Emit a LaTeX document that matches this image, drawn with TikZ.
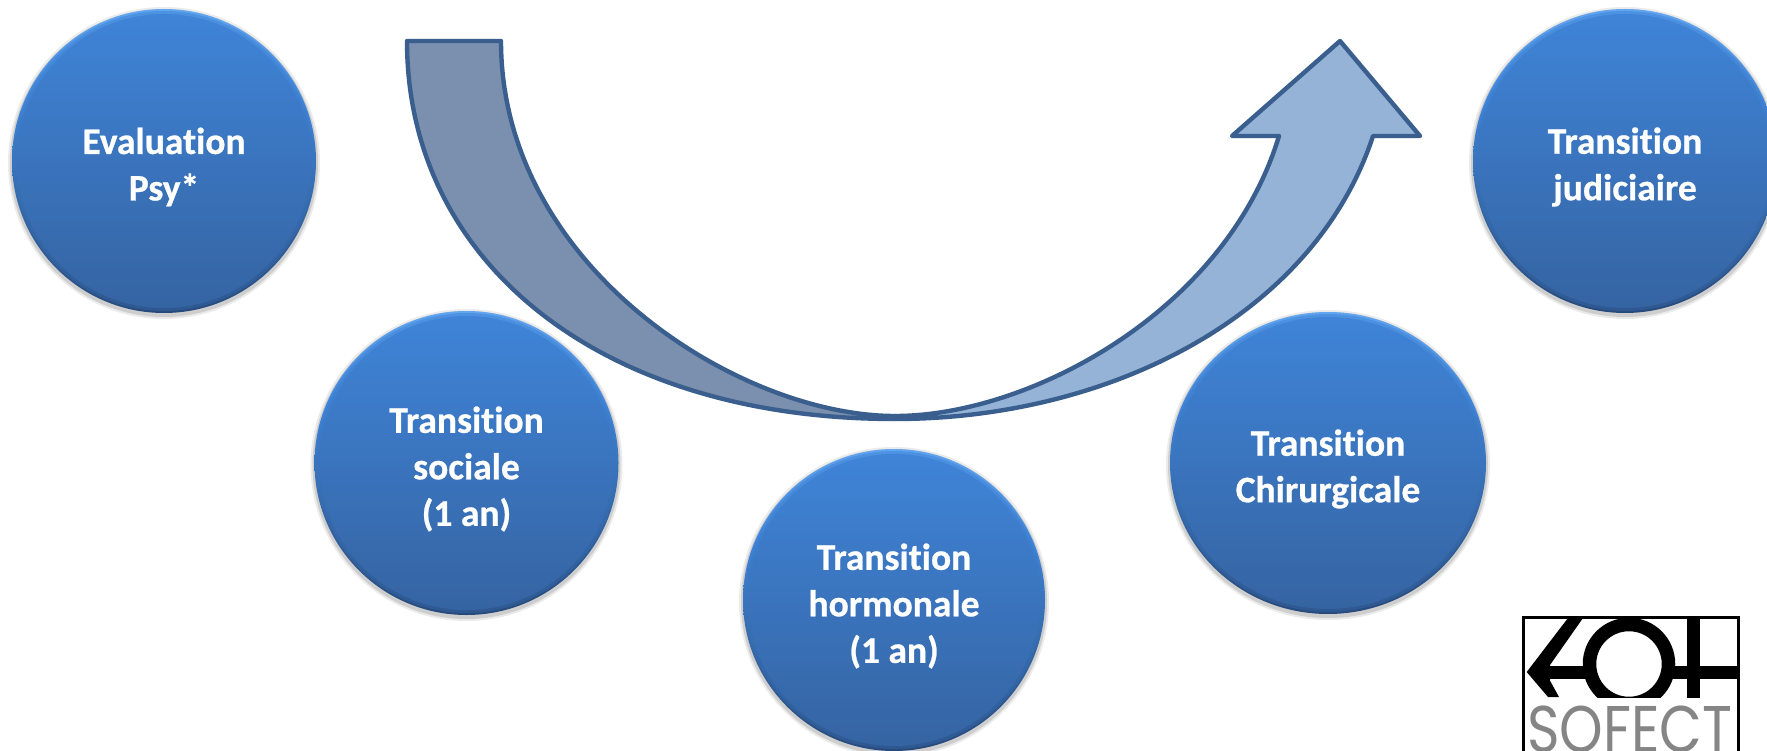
\documentclass[tikz,border=0pt]{standalone}
\usepackage{fontspec}
\setmainfont[Ligatures=NoCommon,BoldFeatures={FakeBold=0.7}]{Carlito}
\newfontfamily\logofont{Poppins}
\definecolor{stroke}{HTML}{3A5F8F}
\definecolor{leftfill}{HTML}{7A90AE}
\definecolor{rightfill}{HTML}{95B3D7}
\definecolor{logogray}{HTML}{858585}
\definecolor{rimtop}{HTML}{62A6F0}
\definecolor{rimmidA}{HTML}{3F85DA}
\definecolor{rimmidB}{HTML}{3568A8}
\definecolor{rimbot}{HTML}{274A7C}
\definecolor{bodytop}{HTML}{3F84D8}
\definecolor{bodybot}{HTML}{3564A2}
\tikzset{
  arrowpart/.style={draw=stroke,line width=4.4pt,line join=round},
  bubblelabel/.style={text=white,align=center,font=\fontsize{37.5}{46.5}\bfseries\selectfont,inner sep=0pt},
  logoline/.style={draw=black,line width=13.5pt},
}
\pgfdeclareverticalshading{rimshade}{100bp}{color(0bp)=(rimbot); color(25bp)=(rimbot); color(42bp)=(rimmidB); color(60bp)=(rimmidA); color(75bp)=(rimtop); color(100bp)=(rimtop)}
\pgfdeclareverticalshading{bodyshade}{100bp}{color(0bp)=(bodybot); color(25bp)=(bodybot); color(75bp)=(bodytop); color(100bp)=(bodytop)}
% name, x, y, x radius, y radius, text
\newcommand{\bubble}[6]{%
  \fill[black,opacity=.08] (#2,#3+2) ellipse [x radius=#4+4,y radius=#5+4];
  \fill[black,opacity=.12] (#2,#3+2) ellipse [x radius=#4+2,y radius=#5+2];
  \shade[shading=rimshade] (#2,#3) ellipse [x radius=#4,y radius=#5];
  \shade[shading=bodyshade,opacity=.55] (#2,#3) ellipse [x radius=#4-2,y radius=#5-2];
  \shade[shading=bodyshade] (#2,#3) ellipse [x radius=#4-5,y radius=#5-5];
  \node[bubblelabel] (#1) at (#2,#3+6) {#6};
}
\begin{document}
\begin{tikzpicture}[x=1pt,y=-1pt]
\useasboundingbox (0,0) rectangle (1767,751);
\clip (0,0) rectangle (1767,751);
\fill[white] (0,0) rectangle (1767,751);
% curved arrow, left half
\draw[arrowpart,fill=leftfill] (407,41) .. controls (407,262) and (600,419) .. (895,419)
  -- (895,416)
  .. controls (738,416) and (501,266) .. (501,41) -- cycle;
% curved arrow, right half
\draw[arrowpart,fill=rightfill] (895,419) .. controls (1109,419) and (1314,316) .. (1373,136)
  -- (1420,136) -- (1340,41) -- (1232,136) -- (1279,136)
  .. controls (1226,311) and (1030,416) .. (895,416) -- cycle;
% bubbles
\bubble{eval}{164}{161}{152}{152}{Evaluation\\Psy*}
\bubble{soc}{466.5}{463}{152}{152}{Transition\\sociale\\(1 an)}
\bubble{horm}{894}{600}{151}{151}{Transition\\hormonale\\(1 an)}
\bubble{chir}{1328}{463}{158}{151}{Transition\\Chirurgicale}
\bubble{jud}{1625}{161}{152}{152}{Transition\\judiciaire}
% logo
\begin{scope}
  \clip (1524,618) rectangle (1737,697);
  \draw[logoline] (1540,672.5) -- (1588,672.5);
  \draw[logoline] (1670,672.5) -- (1737,672.5);
  \fill[black] (1526.7,672) -- (1568,618) -- (1583,618) -- (1550,665) -- (1550,680.7)
     -- (1559,697) -- (1548,697) -- cycle;
  \draw[logoline] (1629,664) circle [radius=39.5];
  \draw[logoline,line width=13pt] (1693,610) -- (1693,700);
\end{scope}
\draw[black,line width=3pt] (1523.5,752) -- (1523.5,617.5) -- (1738,617.5) -- (1738,752);
\node[inner sep=0pt,anchor=center,text=logogray,xscale=.84] (logo) at (1630,729) {\logofont\fontsize{66}{66}\selectfont SOFECT};
\end{tikzpicture}
\end{document}
